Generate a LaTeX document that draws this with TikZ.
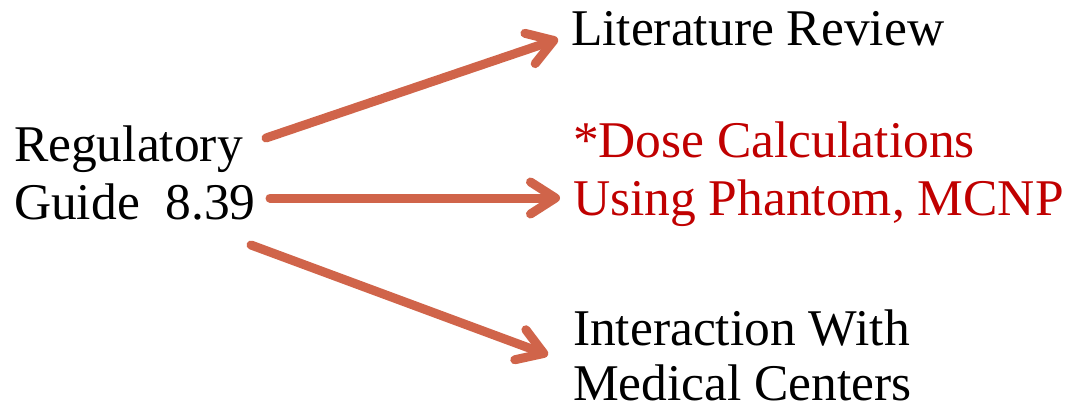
\documentclass[tikz,border=0pt]{standalone}
\usepackage{fontspec}
\setmainfont{Liberation Serif}
\usetikzlibrary{arrows.meta}
\definecolor{arrowc}{HTML}{D0644A}
\definecolor{redtext}{HTML}{C00000}
\tikzset{
  lbl/.style={inner sep=0pt, outer sep=0pt, anchor=base west, align=left,
    font=\fontsize{51.5}{58}\selectfont},
  conn/.style={draw=arrowc, line width=9pt, line cap=round,
    -{Straight Barb[length=25pt,width=32pt,line cap=round,line join=round]}}
}
\begin{document}
\begin{tikzpicture}[x=1pt,y=-1pt]
\useasboundingbox (0,0) rectangle (1071,412);
\node[lbl] (reg) at (14,219) {Regulatory\\Guide\ \ 8.39};
\node[lbl] (lit) at (571,46) {Literature Review};
\node[lbl, text=redtext] (dose) at (573,215) {*Dose Calculations\\Using Phantom, MCNP};
\node[lbl, font=\fontsize{51.5}{55}\selectfont] (med) at (573,400) {Interaction With\\Medical Centers};
\coordinate (s1) at (266,138);
\coordinate (s2) at (270,198);
\coordinate (s3) at (251,245);
\coordinate (e1) at (558,39);
\coordinate (e2) at (560,198);
\coordinate (e3) at (548,355);
\draw[conn] (s1) -- (e1);
\draw[conn] (s2) -- (e2);
\draw[conn] (s3) -- (e3);
\end{tikzpicture}
\end{document}
